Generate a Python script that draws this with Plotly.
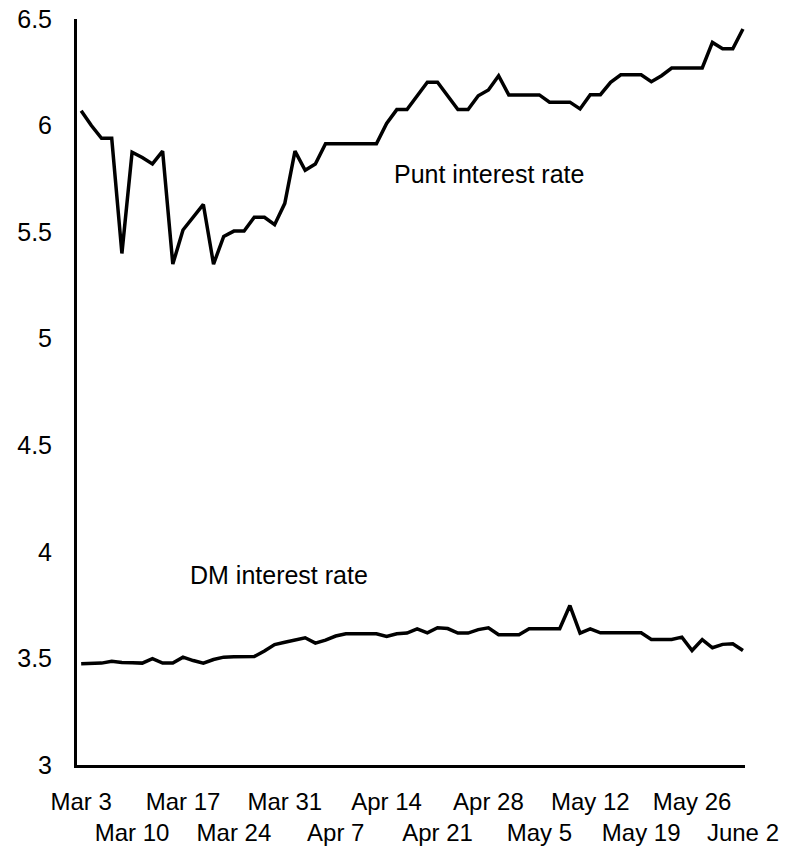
import plotly.graph_objects as go

# Business-day index (Mar 3 = 0 ... June 2 = 65)
day_index = list(range(66))

punt_rate = [6.07, 6.00, 5.94, 5.94, 5.40, 5.875, 5.85, 5.82, 5.88, 5.35,
             5.51, 5.57, 5.63, 5.35, 5.48, 5.505, 5.505, 5.57, 5.57, 5.535,
             5.635, 5.88, 5.79, 5.82, 5.915, 5.915, 5.915, 5.915, 5.915, 5.915,
             6.01, 6.075, 6.075, 6.14, 6.203, 6.203, 6.14, 6.075, 6.075, 6.14,
             6.167, 6.234, 6.144, 6.144, 6.144, 6.144, 6.11, 6.11, 6.11, 6.078,
             6.145, 6.145, 6.203, 6.238, 6.238, 6.238, 6.206, 6.234, 6.27, 6.27,
             6.27, 6.27, 6.39, 6.36, 6.36, 6.453]

dm_rate = [3.475, 3.477, 3.478, 3.487, 3.481, 3.48, 3.478, 3.499, 3.478, 3.478,
           3.506, 3.49, 3.478, 3.495, 3.506, 3.508, 3.509, 3.509, 3.535, 3.565,
           3.576, 3.588, 3.597, 3.572, 3.586, 3.605, 3.616, 3.616, 3.616, 3.616,
           3.603, 3.616, 3.619, 3.639, 3.62, 3.644, 3.64, 3.619, 3.619, 3.635,
           3.644, 3.611, 3.611, 3.611, 3.639, 3.639, 3.639, 3.639, 3.748, 3.619,
           3.639, 3.62, 3.62, 3.62, 3.62, 3.62, 3.589, 3.589, 3.589, 3.6,
           3.537, 3.588, 3.55, 3.566, 3.569, 3.537]

tick_labels = ["Mar 3", "Mar 10", "Mar 17", "Mar 24", "Mar 31", "Apr 7", "Apr 14",
               "Apr 21", "Apr 28", "May 5", "May 12", "May 19", "May 26", "June 2"]
tick_positions = [0, 5, 10, 15, 20, 25, 30, 35, 40, 45, 50, 55, 60, 65]

y_ticks = [3, 3.5, 4, 4.5, 5, 5.5, 6, 6.5]
y_tick_labels = ["3", "3.5", "4", "4.5", "5", "5.5", "6", "6.5"]

FONT = "Liberation Sans, Arial, sans-serif"

fig = go.Figure()
fig.add_trace(go.Scatter(x=day_index, y=punt_rate, mode="lines",
                         line=dict(color="black", width=3.5), name="Punt interest rate"))
fig.add_trace(go.Scatter(x=day_index, y=dm_rate, mode="lines",
                         line=dict(color="black", width=3.5), name="DM interest rate"))

staggered = [lab if k % 2 == 0 else "<br>" + lab for k, lab in enumerate(tick_labels)]

fig.update_layout(
    width=790, height=848,
    margin=dict(l=77, r=45, t=19, b=83, autoexpand=False),
    paper_bgcolor="white", plot_bgcolor="white",
    showlegend=False,
    font=dict(family=FONT, size=25, color="black"),
    xaxis=dict(range=[-0.41, 65.2], tickmode="array", tickvals=tick_positions,
               ticktext=staggered, showgrid=False, zeroline=False,
               showline=True, linecolor="black", linewidth=3, ticks="",
               tickangle=0, automargin=False, ticklabeloverflow="allow",
               ticklabelstandoff=13, tickfont=dict(family=FONT, size=24)),
    yaxis=dict(range=[3, 6.5], tickmode="array", tickvals=y_ticks,
               ticktext=y_tick_labels, showgrid=False, zeroline=False,
               showline=True, linecolor="black", linewidth=3, ticks="",
               automargin=False, ticklabeloverflow="allow",
               ticklabelstandoff=17, tickfont=dict(family=FONT, size=25)),
    annotations=[
        dict(x=40.1, y=5.772, text="Punt interest rate", showarrow=False,
             xanchor="center", yanchor="middle", font=dict(family=FONT, size=25)),
        dict(x=19.4, y=3.893, text="DM interest rate", showarrow=False,
             xanchor="center", yanchor="middle", font=dict(family=FONT, size=25)),
    ],
)

# remove the page's default 8px body margin so the figure fills the window
fig.write_html("out.html", config={"displayModeBar": False},
               post_script="document.body.style.margin='0px';")
